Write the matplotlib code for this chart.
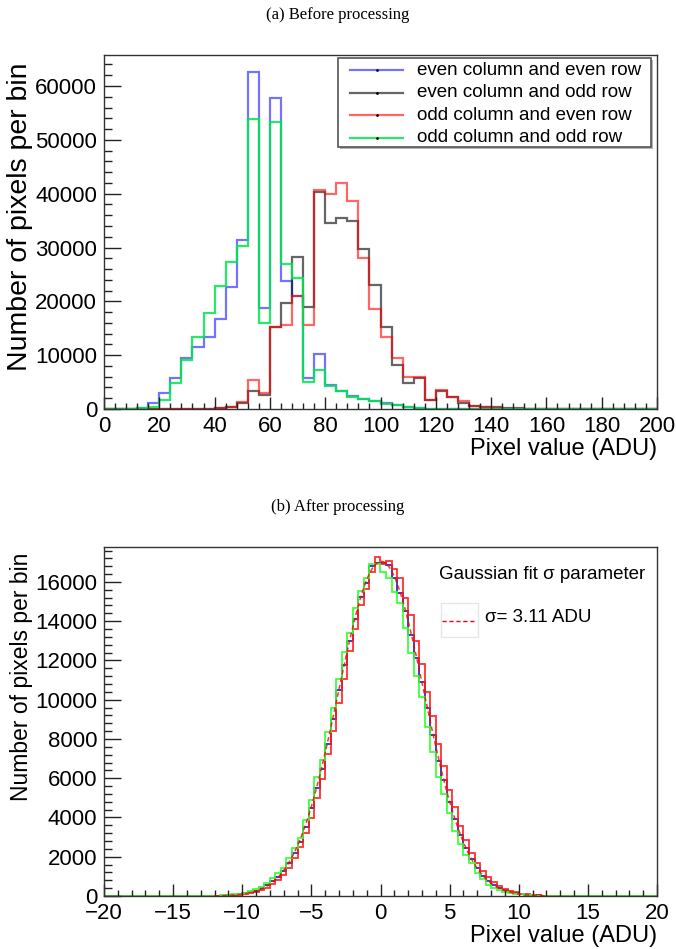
import numpy as np
import matplotlib
matplotlib.use("Agg")
import matplotlib.pyplot as plt
from matplotlib.lines import Line2D
from matplotlib.patches import Rectangle

plt.rcParams['font.family'] = ['Liberation Sans', 'DejaVu Sans']

# ---------------- data: (a) before processing ----------------
top_bin_width = 4
top_range = (0, 200)
labels_top = ["even column and even row", "even column and odd row",
              "odd column and even row", "odd column and odd row"]
even_even = [0, 0, 0, 250, 1170, 2900, 5700, 9400, 11600, 13400, 16700, 22600, 31400,
             62600, 18700, 57800, 23700, 21000, 5700, 10300, 4400, 3400, 2400, 1900,
             1500, 1100, 800, 450, 200, 80] + [0] * 20
even_odd = [0] * 10 + [100, 300, 1100, 3400, 2600, 15300, 19600, 28200, 19000, 40400,
                       34500, 35400, 35000, 29700, 23100, 15300, 8200, 4770, 5700, 1670,
                       3340, 2300, 1050, 560, 300, 400, 250, 100] + [0] * 12
odd_even = [0] * 10 + [100, 400, 1360, 5400, 3000, 15300, 15600, 20900, 15600, 40600,
                       39900, 42000, 38700, 28000, 18500, 13400, 9400, 6000, 6000, 1670,
                       3530, 2300, 1550, 560, 300, 150] + [0] * 14
odd_odd = [0, 0, 0, 100, 400, 1670, 4770, 9100, 13400, 17800, 22900, 27400, 30200,
           53900, 15900, 53300, 27000, 24400, 5080, 7200, 4300, 3300, 2300, 1800,
           1400, 1000, 700, 400, 200, 80] + [0] * 20

# ---------------- data: (b) after processing ----------------
bot_bin_width = 0.4
bot_range = (-20, 20)
pad = [0] * 20   # empty bins from -20 to -12 and from 12 to 20
after_green = [20, 30, 50, 80, 120, 170, 250, 340, 480, 645, 900, 1160, 1410, 1920, 2430,
               2940, 3870, 4890, 6050, 6930, 8370, 9560, 11050, 12420, 13420, 14660, 15560,
               16190, 16920, 16920, 16530, 16190, 15510, 14910, 13640, 12400, 11210, 10160,
               8600, 7350, 6080, 5200, 4210, 3330, 2650, 2090, 1660, 1150, 850, 560, 390,
               300, 220, 160, 120, 80, 50, 35, 20, 10]
after_blue = [18, 24, 42, 60, 95, 140, 205, 270, 400, 550, 760, 990, 1260, 1700, 2170,
              2730, 3520, 4470, 5480, 6490, 7760, 9020, 10480, 11770, 13010, 14100, 15250,
              15950, 16800, 16990, 16960, 16850, 16200, 15450, 14500, 13300, 12150, 10900,
              9560, 8180, 6890, 5900, 4780, 3900, 3100, 2440, 1900, 1430, 1040, 760, 540,
              390, 290, 200, 150, 100, 65, 45, 28, 15]
after_red = [15, 20, 30, 45, 70, 100, 150, 220, 310, 430, 600, 810, 1080, 1450, 1950,
             2480, 3230, 3990, 4990, 5960, 7240, 8400, 9830, 11050, 12480, 13590, 14850,
             15650, 16520, 17260, 16930, 17090, 16650, 16180, 15200, 14300, 12980, 11830,
             10370, 9160, 7760, 6640, 5420, 4510, 3560, 2860, 2180, 1700, 1250, 950, 690,
             500, 360, 250, 180, 120, 85, 55, 35, 20]
fit_amplitude = 17050
fit_mean = 0.05
fit_sigma = 3.11
fit_range = (-12, 12)

# ---------------- figure ----------------
W, H = 676, 949
fig = plt.figure(figsize=(W / 100, H / 100), dpi=100)

def frac_axes(l, t, r, b):
    return fig.add_axes([l / W, 1 - b / H, (r - l) / W, (b - t) / H])

ax1 = frac_axes(104, 55, 657, 409)
ax2 = frac_axes(104, 547, 657, 896)

TICK_FS = 16
LABEL_FS = 17

def style(ax):
    for s in ax.spines.values():
        s.set_linewidth(1.0)
        s.set_color('#333333')
    ax.tick_params(axis='both', which='both', direction='in', labelsize=TICK_FS,
                   color='#222222', width=1.0)
    ax.tick_params(axis='x', which='major', length=8.5, pad=5)
    ax.tick_params(axis='x', which='minor', length=4.3)
    ax.tick_params(axis='y', which='major', length=12, pad=5)
    ax.tick_params(axis='y', which='minor', length=6)

# ---- (a) ----
top_edges = np.arange(top_range[0], top_range[1] + top_bin_width / 2, top_bin_width)
top_styles = [('#0000ff', 0.55), ('#000000', 0.6), ('#ff0000', 0.6), ('#00e64d', 0.85)]
top_series = [even_even, even_odd, odd_even, odd_odd]
for vals, (c, a) in zip(top_series, top_styles):
    ax1.stairs(vals, top_edges, color=c, alpha=a, lw=1.6)

ax1.set_xlim(*top_range)
ax1.set_ylim(0, 65760)
ax1.set_xticks(np.arange(0, 201, 20))
ax1.set_xticks(np.arange(0, 201, 4), minor=True)
ax1.set_yticks(np.arange(0, 60001, 10000))
ax1.set_yticks(np.arange(0, 65001, 2000), minor=True)
style(ax1)
ax1.set_xlabel("Pixel value (ADU)", fontsize=LABEL_FS, loc='right')
ax1.xaxis.set_label_coords(1.0, -0.083)
ax1.set_ylabel("Number of pixels per bin", fontsize=20.5, loc='top')
ax1.yaxis.set_label_coords(-0.128, 0.98)

# legend box of panel (a), drawn in axes coordinates
T = ax1.transAxes
px_x = 1 / 553.0
px_y = 1 / 354.0
lx0, lx1 = (338 - 104) * px_x, (651 - 104) * px_x
ly0, ly1 = (409 - 147) * px_y, (409 - 58) * px_y
ax1.add_patch(Rectangle((lx0 + 2 * px_x, ly0 - 2 * px_y), lx1 - lx0, ly1 - ly0,
                        transform=T, facecolor='#b4b4b4', edgecolor='none', zorder=5))
ax1.add_patch(Rectangle((lx0, ly0), lx1 - lx0, ly1 - ly0, transform=T,
                        facecolor='white', edgecolor='#555555', lw=1.2, zorder=6))
row_y = [70, 92.5, 115, 137.5]
for (c, a), lab, ry in zip(top_styles, labels_top, row_y):
    yy = (409 - ry) * px_y
    ax1.add_line(Line2D([(350 - 104) * px_x, (403 - 104) * px_x], [yy, yy], transform=T,
                        color=c, alpha=a, lw=1.6, zorder=7))
    ax1.add_line(Line2D([(376.5 - 104) * px_x], [yy], transform=T, marker='.',
                        markersize=2, color='k', zorder=8))
    ax1.text((417 - 104) * px_x, yy, lab, transform=T, fontsize=13.5,
             ha='left', va='center', zorder=8)

fig.text(0.5, 1 - 15 / H, "(a) Before processing", ha='center', va='center',
         family='Liberation Serif', fontsize=12)

# ---- (b) ----
bot_edges = np.arange(bot_range[0], bot_range[1] + bot_bin_width / 2, bot_bin_width)
bot_series = [(pad + after_blue + pad, '#1010a0', 0.85),
              (pad + after_red + pad, '#ff1a1a', 0.9),
              (pad + after_green + pad, '#33ff33', 0.95)]
for vals, c, a in bot_series:
    ax2.stairs(vals, bot_edges, color=c, alpha=a, lw=1.3)

xf = np.linspace(fit_range[0], fit_range[1], 400)
yf = fit_amplitude * np.exp(-0.5 * ((xf - fit_mean) / fit_sigma) ** 2)
ax2.plot(xf, yf, color='#ff0000', lw=1.1, ls=(0, (3, 2)), alpha=0.8)

ax2.set_xlim(*bot_range)
ax2.set_ylim(0, 17780)
ax2.set_xticks(np.arange(-20, 21, 5))
ax2.set_xticks(np.arange(-20, 21, 1), minor=True)
ax2.set_yticks(np.arange(0, 16001, 2000))
ax2.set_yticks(np.arange(0, 17781, 400), minor=True)
style(ax2)
ax2.set_xlabel("Pixel value (ADU)", fontsize=LABEL_FS, loc='right')
ax2.xaxis.set_label_coords(1.0, -0.083)
ax2.set_ylabel("Number of pixels per bin", fontsize=16.5, loc='top')
ax2.yaxis.set_label_coords(-0.128, 0.985)

ax2.text(0.606, 0.9226, "Gaussian fit \u03c3 parameter", transform=ax2.transAxes,
         fontsize=13.5, ha='left', va='center')
ax2.add_patch(Rectangle((0.609, 0.742), 0.067, 0.0975, transform=ax2.transAxes,
                        facecolor='none', edgecolor='#e6e6e6', lw=1.0))
ax2.plot([0.612, 0.673], [0.788, 0.788], transform=ax2.transAxes, color='#ff0000',
         lw=1.0, ls=(0, (3, 2)))
ax2.text(0.689, 0.7966, "\u03c3= 3.11 ADU", transform=ax2.transAxes,
         fontsize=13.5, ha='left', va='center')

fig.text(0.5, 1 - 507 / H, "(b) After processing", ha='center', va='center',
         family='Liberation Serif', fontsize=12)

fig.savefig("out.png", dpi=100)
